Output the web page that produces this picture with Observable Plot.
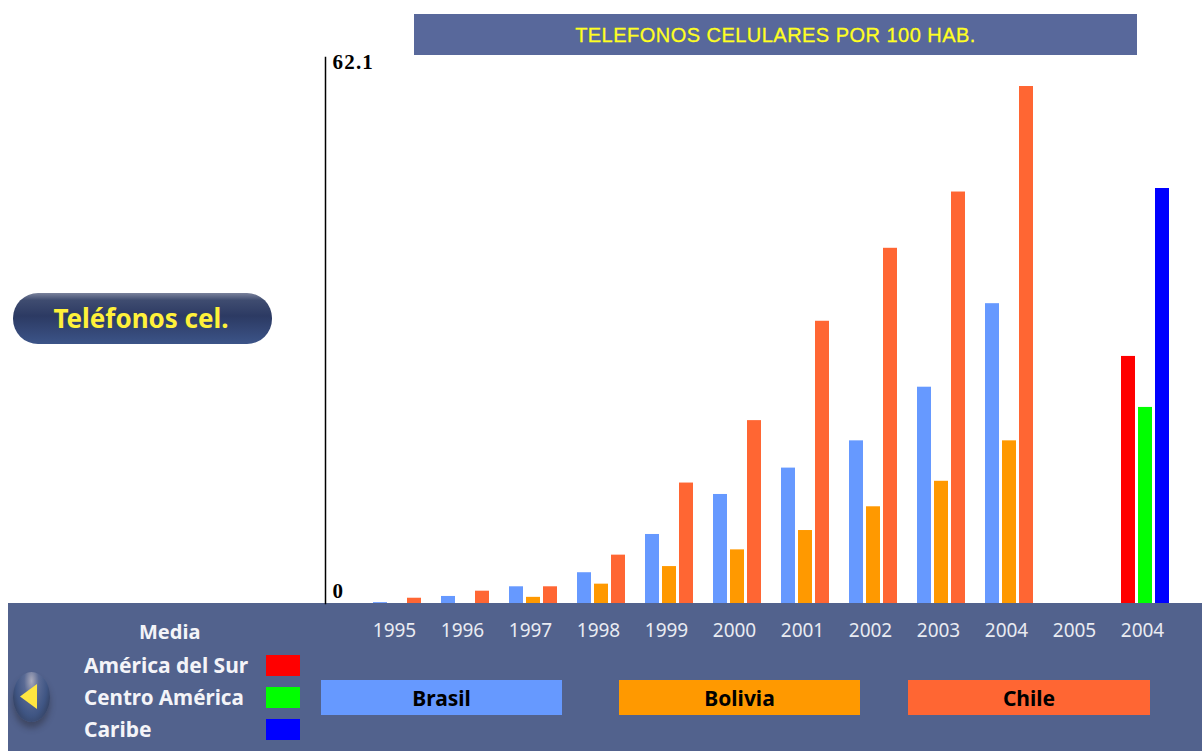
<!DOCTYPE html>
<html><head><meta charset="utf-8">
<script src="https://cdn.jsdelivr.net/npm/d3@7"></script>
<script src="https://cdn.jsdelivr.net/npm/@observablehq/plot@0.6"></script>
<style>
html,body{margin:0;padding:0;background:#fff;width:1202px;height:751px;overflow:hidden}
#stage{position:relative;width:1202px;height:751px;font-family:"Noto Sans",sans-serif}
#stage>*{position:absolute}
#panel{left:8px;top:603px;width:1194px;height:148px;background:#52628d}
#chart{left:0;top:0}
#chart svg{background:transparent;display:block}
#chart .ylab text{letter-spacing:1.2px}
#title{left:414px;top:14px;width:723px;height:41px;background:#58689b;color:#ffff22;font:20px/42px "Liberation Sans",sans-serif;letter-spacing:.47px;-webkit-text-stroke:.3px #ffff22;text-align:center}
#pill{left:13px;top:293px;width:259px;height:51px;border-radius:25px;background:linear-gradient(#7a829c 0,#3f4c70 14%,#2c3a63 45%,#3c5488 100%);color:#fff13a;font:bold 26px/50px "Noto Sans",sans-serif;text-align:center;text-indent:-3px}
.lg{color:#f4f4f8;font:bold 21px/26px "Noto Sans",sans-serif;white-space:nowrap}
.sw{left:266px;width:34px;height:21px}
.btn{top:680px;height:35px;color:#000;font:bold 21px/37px "Noto Sans",sans-serif;text-align:center}
#back{left:13px;top:672px;width:37px;height:50px;border-radius:50%;background:radial-gradient(ellipse at 50% 18%,#aab 0,#5a6a94 28%,#3f5583 60%,#2c3247 100%);box-shadow:0 6px 6px rgba(40,40,50,.45)}
#tri{left:20px;top:684px;width:17px;height:25px;background:#ffe640;clip-path:polygon(0 50%,100% 0,100% 100%)}
</style></head><body>
<div id="stage">
  <div id="panel"></div>
  <div id="chart"></div>
  <div id="title">TELEFONOS CELULARES POR 100 HAB.</div>
  <div id="pill">Teléfonos cel.</div>
  <div class="lg" style="left:139px;top:619px;font-size:20px">Media</div>
  <div class="lg" style="left:84px;top:652px">América del Sur</div>
  <div class="lg" style="left:84px;top:684px;font-size:20.6px">Centro América</div>
  <div class="lg" style="left:84px;top:716px">Caribe</div>
  <div class="sw" style="top:655px;background:#ff0000"></div>
  <div class="sw" style="top:687px;background:#00ff00"></div>
  <div class="sw" style="top:719px;background:#0000ff"></div>
  <div id="back"></div><div id="tri"></div>
  <div class="btn" style="left:321px;width:241px;background:#6699ff">Brasil</div>
  <div class="btn" style="left:619px;width:241px;background:#ff9900">Bolivia</div>
  <div class="btn" style="left:908px;width:242px;background:#ff6633">Chile</div>
</div>
<script>
const groupLabels = ["1995","1996","1997","1998","1999","2000","2001","2002","2003","2004","2005","2004"];
const brasil  = [0.1,0.8,1.9,3.5,7.85,12.4,15.4,18.5,24.6,34.1,null,null];
const bolivia = [null,null,0.7,2.2,4.2,6.1,8.3,11.0,13.9,18.5,null,null];
const chile   = [0.6,1.4,1.9,5.5,13.7,20.8,32.1,40.4,46.8,58.8,null,null];
const mediaNames = ["América del Sur","Centro América","Caribe"];
const mediaValues = [28.1,22.3,47.2];
const seriesNames = ["Brasil","Bolivia","Chile",...mediaNames];
const seriesColors = ["#6699ff","#ff9900","#ff6633","#ff0000","#00ff00","#0000ff"];
const yTicks = [0,62.1];

// Each group takes three bar slots and one empty slot on a single band scale.
const slotsPerGroup = 4;
const slotCount = groupLabels.length * slotsPerGroup - 1;
const rows = [];
groupLabels.forEach((g,i)=>{
  [brasil,bolivia,chile].forEach((s,k)=>{
    if(s[i]!=null) rows.push({slot:i*slotsPerGroup+k,series:seriesNames[k],value:s[i]});
  });
});
mediaNames.forEach((n,k)=>rows.push({slot:(groupLabels.length-1)*slotsPerGroup+k,series:n,value:mediaValues[k]}));
const tickSlots = groupLabels.map((g,i)=>i*slotsPerGroup+1);

const labelFont = {fontFamily:"Liberation Serif",fontWeight:"bold",fontSize:21,fill:"#000",frameAnchor:"left",textAnchor:"start",dx:7,className:"ylab"};
const chart = Plot.plot({
  width:1202,height:751,
  marginTop:57,marginBottom:148,marginLeft:325,marginRight:33,
  style:{background:"transparent",overflow:"visible"},
  x:{type:"band",domain:d3.range(slotCount),paddingInner:3/17,paddingOuter:1.41,align:1,axis:null,label:null},
  y:{domain:[0,62.1],axis:null,label:null},
  color:{domain:seriesNames,range:seriesColors},
  marks:[
    Plot.barY(rows,{x:"slot",y:"value",fill:"series"}),
    Plot.axisX({ticks:tickSlots,anchor:"bottom",tickSize:0,tickPadding:20,dx:-3,label:null,
      tickFormat:(s)=>groupLabels[(s-1)/slotsPerGroup],
      fontFamily:"Noto Sans",fontSize:19,fill:"#e9ebf2"}),
    Plot.frame({anchor:"left",stroke:"#000",strokeWidth:1.5}),
    Plot.text([yTicks[1]],{...labelFont,y:d=>d,dy:5,text:d=>String(d)}),
    Plot.text([yTicks[0]],{...labelFont,y:d=>d,dy:-12,text:d=>String(d)})
  ]
});
document.getElementById("chart").append(chart);
</script>
</body></html>
